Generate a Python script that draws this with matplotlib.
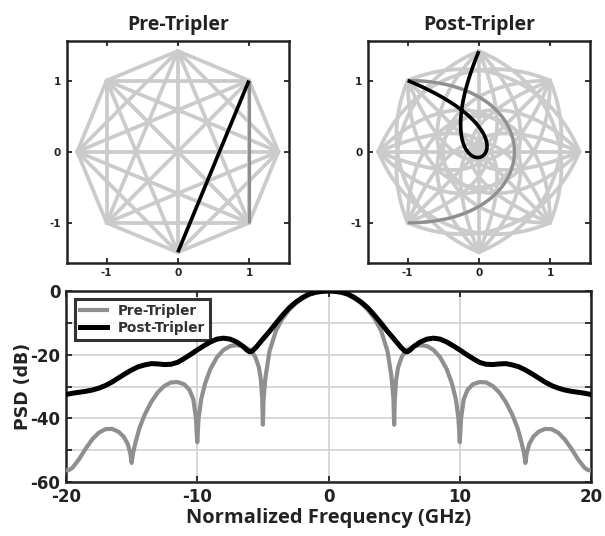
import numpy as np
import matplotlib
matplotlib.use("Agg")
import matplotlib.pyplot as plt
from itertools import combinations

plt.rcParams["axes.unicode_minus"] = False

# ---------------- data ----------------
# 8-point constellation (radius sqrt(2))
const_re = [1.414, 1.0, 0.0, -1.0, -1.414, -1.0, 0.0, 1.0]
const_im = [0.0, 1.0, 1.414, 1.0, 0.0, -1.0, -1.414, -1.0]

# highlighted symbol transitions (indices into the constellation)
path_black = (6, 1)
path_gray = (1, 7)

# PSD, positive-frequency half (the spectrum is symmetric)
freq_pre = [0, 0.5, 1, 1.5, 2, 2.5, 3, 3.5, 4, 4.5, 4.8, 4.95, 5.0, 5.05, 5.15, 5.3,
            5.6, 6.0, 6.5, 7.0, 7.5, 8.0, 8.5, 9.0, 9.4, 9.7, 9.9, 10.0, 10.1, 10.3,
            10.6, 11.0, 11.5, 12.0, 12.5, 13.0, 13.5, 14.0, 14.4, 14.7, 14.9, 15.0,
            15.1, 15.3, 15.6, 16.0, 16.5, 17.0, 17.5, 18.0, 18.5, 19.0, 19.5, 19.8, 20.0]
psd_pre = [0, -0.1, -0.5, -1.2, -2.4, -3.9, -5.9, -8.6, -12.4, -19.0, -27.0, -34.0, -42.0,
           -34.0, -28.0, -24.0, -20.5, -18.4, -17.4, -17.0, -17.3, -18.5, -20.8, -24.5,
           -29.0, -34.0, -40.0, -47.5, -40.0, -34.0, -31.0, -29.3, -28.6, -28.7, -29.8,
           -31.8, -34.8, -38.8, -43.0, -47.5, -51.0, -54.0, -51.0, -48.0, -45.8, -44.2,
           -43.3, -43.4, -44.5, -46.6, -49.5, -52.8, -55.5, -56.3, -56.3]

freq_post = [0, 0.5, 1, 1.5, 2, 2.5, 3, 3.5, 4, 4.5, 5, 5.5, 5.8, 6.0, 6.2, 6.5, 7.0,
             7.5, 8.0, 8.5, 9.0, 9.5, 10.0, 10.5, 11.0, 11.5, 12.0, 12.5, 13.0, 13.5,
             14.0, 14.5, 15.0, 15.5, 16.0, 16.5, 17.0, 17.5, 18.0, 18.5, 19.0, 19.5, 20.0]
psd_post = [0, -0.1, -0.4, -1.0, -2.1, -3.5, -5.3, -7.6, -10.1, -12.7, -15.1, -17.6,
            -18.8, -19.1, -18.6, -17.4, -16.0, -15.1, -14.8, -15.1, -16.0, -17.2, -18.5,
            -19.9, -21.2, -22.4, -23.0, -23.1, -22.9, -22.8, -23.2, -23.8, -24.8, -26.0,
            -27.3, -28.6, -29.7, -30.5, -31.1, -31.5, -31.8, -32.1, -32.5]

psd_xticks = [-20, -10, 0, 10, 20]
psd_yticks = [-60, -50, -40, -30, -20, -10, 0]
psd_ylabels = ["-60", "", "-40", "", "-20", "", "0"]
const_ticks = [-1, 0, 1]

# ---------------- helpers ----------------
LIGHT = "#cbcbcb"
MID = "#8f8f8f"
SPINE = "#222222"
TITLEFONT = ["Open Sans", "DejaVu Sans"]


def mirror(f, v):
    f = np.asarray(f, float)
    v = np.asarray(v, float)
    return np.concatenate([-f[::-1], f[1:]]), np.concatenate([v[::-1], v[1:]])


points = np.array(const_re) + 1j * np.array(const_im)
radius2 = np.max(np.abs(points)) ** 2
t = np.linspace(0.0, 1.0, 300)


def segment(i, j, tripled):
    z = points[i] + t * (points[j] - points[i])
    if tripled:
        z = z ** 3 / radius2
    return z.real, z.imag


def style_const_axes(ax, title):
    ax.set_xlim(-1.56, 1.56)
    ax.set_ylim(-1.56, 1.56)
    ax.set_aspect("equal")
    ax.set_xticks(const_ticks)
    ax.set_yticks(const_ticks)
    ax.tick_params(direction="in", top=True, right=True, length=3.5, width=1.3,
                   labelsize=7.5, pad=4, colors=SPINE)
    for lab in ax.get_xticklabels() + ax.get_yticklabels():
        lab.set_fontweight("bold")
    for s in ax.spines.values():
        s.set_linewidth(1.8)
        s.set_color(SPINE)
    ax.set_title(title, fontsize=14, fontweight="bold", family=TITLEFONT,
                 pad=8, color="#222222")


def draw_constellation(ax, tripled):
    for i, j in combinations(range(len(points)), 2):
        x, y = segment(i, j, tripled)
        ax.plot(x, y, color=LIGHT, lw=2.7, solid_capstyle="round", zorder=1)
    x, y = segment(*path_gray, tripled)
    ax.plot(x, y, color=MID, lw=2.3, solid_capstyle="butt", zorder=2)
    x, y = segment(*path_black, tripled)
    ax.plot(x, y, color="black", lw=2.6, solid_capstyle="butt", zorder=3)


# ---------------- figure ----------------
fig = plt.figure(figsize=(6.05, 5.36), dpi=100)

ax1 = fig.add_axes([0.1102, 0.5099, 0.3674, 0.4142])
draw_constellation(ax1, tripled=False)
style_const_axes(ax1, "Pre-Tripler")

ax2 = fig.add_axes([0.6078, 0.5099, 0.3674, 0.4142])
draw_constellation(ax2, tripled=True)
style_const_axes(ax2, "Post-Tripler")

ax3 = fig.add_axes([0.1091, 0.1007, 0.8678, 0.3563])
fp, vp = mirror(freq_pre, psd_pre)
fq, vq = mirror(freq_post, psd_post)
ax3.plot(fp, vp, color=MID, lw=3.0, label="Pre-Tripler", zorder=3)
ax3.plot(fq, vq, color="black", lw=3.6, label="Post-Tripler", zorder=4)
ax3.set_xlim(-20, 20)
ax3.set_ylim(-60, 0)
ax3.set_xticks(psd_xticks)
ax3.set_yticks(psd_yticks)
ax3.set_yticklabels(psd_ylabels)
ax3.grid(True, color="#d4d4d4", lw=1.3, zorder=0)
ax3.tick_params(direction="in", top=True, right=True, length=4, width=1.3,
                labelsize=12, pad=4, colors=SPINE)
for lab in ax3.get_xticklabels() + ax3.get_yticklabels():
    lab.set_fontweight("bold")
for s in ax3.spines.values():
    s.set_linewidth(1.8)
    s.set_color(SPINE)
ax3.set_xlabel("Normalized Frequency (GHz)", fontsize=14.5, fontweight="bold",
               family=TITLEFONT, labelpad=2, color="#222222")
ax3.set_ylabel("PSD (dB)", fontsize=12.5, fontweight="bold", labelpad=-1,
               color="#222222")
leg = ax3.legend(loc="upper left", bbox_to_anchor=(0.017, 0.958),
                 prop={"weight": "bold", "size": 9.8}, frameon=True, fancybox=False,
                 handlelength=2.0, borderpad=0.35, labelspacing=0.25,
                 handletextpad=0.8, borderaxespad=0.0)
leg.get_frame().set_edgecolor("black")
leg.get_frame().set_linewidth(2.2)
for txt in leg.get_texts():
    txt.set_color("#333333")

fig.savefig("out.png", dpi=100)
